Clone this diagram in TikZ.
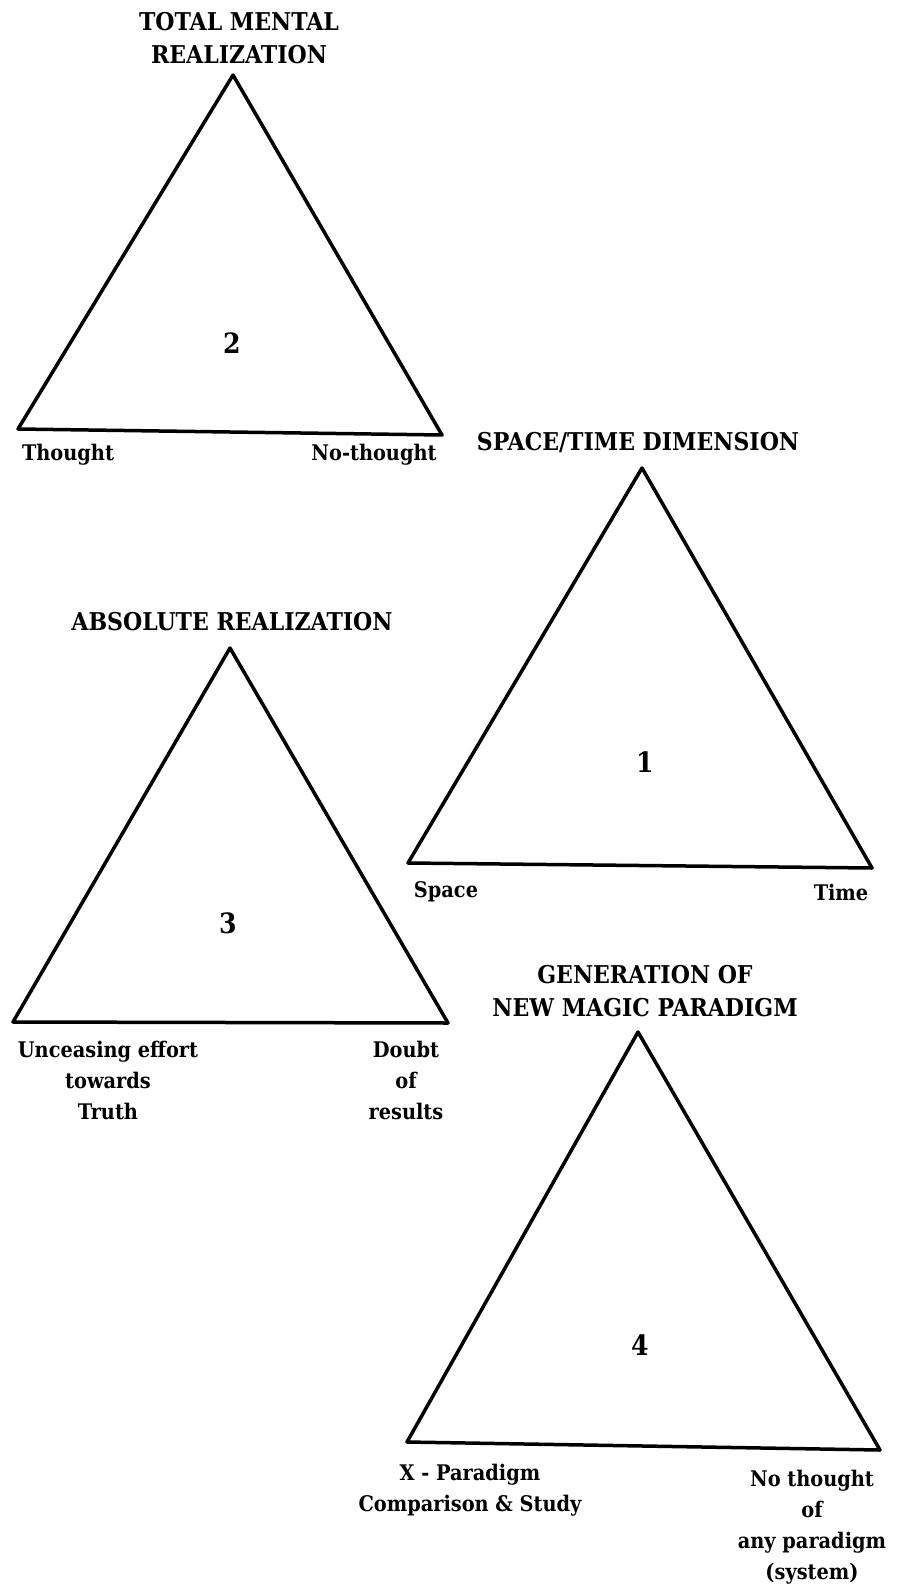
\documentclass[tikz,border=0pt]{standalone}
\usepackage{fontspec}
\setmainfont{DejaVu Serif}
\newfontfamily\heavyserif{DejaVu Serif Condensed}[BoldFont=* Bold]
\usepackage{tikz}
\usetikzlibrary{positioning}

\tikzset{
  tri/.style={line width=3.5pt,line join=round},
  head/.style={align=center,font=\heavyserif\bfseries\fontsize{24.5}{33}\selectfont,inner sep=0pt},
  corner/.style={align=center,font=\heavyserif\bfseries\fontsize{21.5}{31}\selectfont,inner sep=0pt},
  num/.style={font=\heavyserif\bfseries\fontsize{28}{30}\selectfont,inner sep=0pt}
}

\begin{document}
\begin{tikzpicture}[x=1pt,y=-1pt]
\useasboundingbox (0,0) rectangle (899,1594);
% the four triangles
\foreach \n/\ax/\ay/\lx/\ly/\rx/\ry in {2/233/75/18/429/442/435,1/642/468/408/863/872/868,3/230/648/13/1022/448/1023,4/638/1032/407/1442/880/1450}{
  \coordinate (apex\n) at (\ax,\ay);
  \coordinate (left\n) at (\lx,\ly);
  \coordinate (right\n) at (\rx,\ry);
  \draw[tri] (apex\n) -- (left\n) -- (right\n) -- cycle;
}
% numbers
\node[num] (num2) at (232,343) {2};
\node[num] (num1) at (645,762) {1};
\node[num] (num3) at (228,923) {3};
\node[num] (num4) at (640,1345) {4};
% headings
\node[head] (head2) at (239,38) {TOTAL MENTAL\\REALIZATION};
\node[head] (head1) at (638,443) {SPACE/TIME DIMENSION};
\node[head] (head3) at (232,622) {ABSOLUTE REALIZATION};
\node[head] (head4) at (645,991) {GENERATION OF\\NEW MAGIC PARADIGM};
% corner labels
\node[corner] (thought) at (68,455) {Thought};
\node[corner] (nothought) at (374,455) {No-thought};
\node[corner] (space) at (446,892) {Space};
\node[corner] (time) at (841,892) {Time};
\node[corner] (effort) at (108,1080) {Unceasing effort\\towards\\Truth};
\node[corner] (doubt) at (406,1080) {Doubt\\of\\results};
\node[corner] (xpar) at (470,1490) {X - Paradigm\\Comparison \& Study};
\node[corner] (nopar) at (812,1527) {No thought\\of\\any paradigm\\(system)};
\end{tikzpicture}
\end{document}
